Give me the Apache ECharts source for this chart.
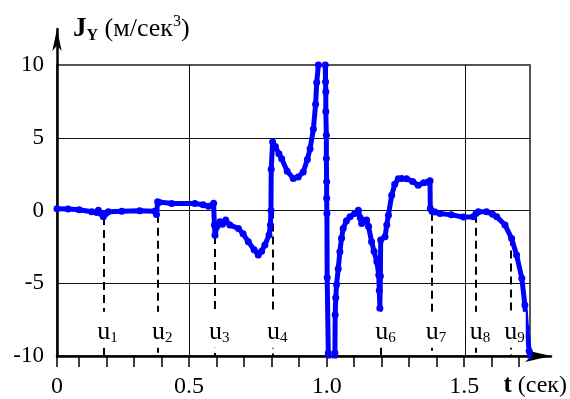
<!DOCTYPE html>
<html>
<head>
<meta charset="utf-8">
<script src="https://cdn.jsdelivr.net/npm/echarts@6/dist/echarts.min.js"></script>
<style>
  html, body { margin: 0; padding: 0; background: #fff; }
  #chart { width: 570px; height: 399px; }
</style>
</head>
<body>
<div id="chart"></div>
<script>
// Measured jerk along Y, J_Y (m/s^3), against time t (s)
const timeSec = [
  0.020, 0.060, 0.100, 0.146, 0.164, 0.170, 0.180, 0.188, 0.197, 0.206,
  0.255, 0.320, 0.375, 0.381, 0.385, 0.390, 0.436, 0.520, 0.550, 0.569,
  0.583, 0.588, 0.591, 0.593, 0.600, 0.611, 0.620, 0.632, 0.647, 0.678,
  0.695, 0.714, 0.735, 0.750, 0.762, 0.774, 0.789, 0.794, 0.796, 0.797,
  0.802, 0.812, 0.825, 0.835, 0.855, 0.877, 0.895, 0.913, 0.928, 0.938,
  0.950, 0.958, 0.962, 0.968, 0.978, 0.988, 0.993, 0.994, 0.995, 0.995,
  0.997, 0.997, 0.998, 0.998, 0.999, 1.000, 1.004, 1.010, 1.022, 1.028,
  1.029, 1.031, 1.034, 1.040, 1.046, 1.052, 1.058, 1.070, 1.083, 1.100,
  1.113, 1.120, 1.125, 1.134, 1.143, 1.150, 1.161, 1.170, 1.180, 1.187,
  1.189, 1.191, 1.193, 1.194, 1.210, 1.216, 1.222, 1.234, 1.245, 1.258,
  1.270, 1.288, 1.310, 1.330, 1.350, 1.365, 1.373, 1.374, 1.380, 1.391,
  1.409, 1.450, 1.494, 1.530, 1.540, 1.548, 1.578, 1.600, 1.615, 1.645,
  1.669, 1.687, 1.706, 1.717, 1.723, 1.733, 1.740
];
const jerkY = [
  0.12, 0.10, 0.05, -0.09, -0.14, 0.02, -0.20, -0.43, -0.20, -0.09,
  -0.05, -0.02, -0.05, -0.27, 0.60, 0.55, 0.48, 0.48, 0.40, 0.30,
  0.35, 0.50, -1.00, -1.70, -1.10, -0.78, -0.95, -0.66, -1.00, -1.23,
  -1.60, -2.15, -2.70, -3.06, -2.80, -2.37, -1.69, -1.00, 0.00, 2.83,
  4.70, 4.40, 3.90, 3.56, 2.70, 2.20, 2.30, 2.65, 3.50, 4.25,
  5.60, 7.30, 8.80, 10.0, 13.5, 13.5, 10.0, 8.85, 8.16, 6.80,
  5.17, 3.57, 1.97, 0.85, -0.20, -4.60, -9.80, -13.0, -13.0, -9.80,
  -7.17, -6.00, -5.10, -4.00, -2.83, -1.90, -1.23, -0.70, -0.43, -0.20,
  0.02, -0.50, -0.89, -0.70, -0.66, -1.10, -2.14, -2.80, -3.51, -4.43,
  -5.50, -6.71, -4.50, -2.03, -1.80, -1.00, -0.32, 1.05, 1.80, 2.19,
  2.20, 2.19, 2.00, 1.73, 1.90, 1.95, 2.05, 0.14, -0.05, -0.10,
  -0.20, -0.30, -0.45, -0.43, -0.20, -0.09, -0.09, -0.25, -0.43, -1.00,
  -1.92, -3.06, -4.66, -6.49, -8.08, -9.68, -11.0
];

// Control instants u_i: time, index and the curve value where the marker starts
const uTimes = [0.188, 0.386, 0.593, 0.803, 1.196, 1.379, 1.539, 1.664];
const uNames = ['1', '2', '3', '4', '6', '7', '8', '9'];
const uTop   = [-0.45, -0.30, -1.75, 0.00, -6.70, -0.15, -0.30, -1.85];

// Axis ticks, labels and grid lines
const xGridLines  = [0.5, 1.0, 1.5];
const yGridLines  = [-5, 0, 5];
const yTickLabels = [-10, -5, 0, 5, 10];
const xTickLabels = [0.02, 0.5, 1.0, 1.5];   // first entry sits under the vertical axis, printed as "0"
const xMinorTicks = [0.02, 0.1, 0.2, 0.3, 0.4, 0.5, 0.6, 0.7, 0.8, 0.9,
                     1.0, 1.1, 1.2, 1.3, 1.4, 1.5, 1.6, 1.7];

const SERIF = '"Liberation Serif", "Times New Roman", serif';
const X_MIN = 0.02;        // vertical axis position on the time scale
const X_FRAME = 1.7356;    // right edge of the framed plot area
const X_ARROW = 1.8154;    // end of the time axis line
const Y_ARROW = 12.47;     // end of the value axis line
const U_LABEL_Y = -8.2;

const chart = echarts.init(document.getElementById('chart'), null, { renderer: 'canvas' });

const option = {
  animation: false,
  backgroundColor: '#fff',
  grid: [
    { left: 57, top: 65, width: 473, height: 291, show: true,
      borderColor: '#555', borderWidth: 2, backgroundColor: 'transparent' },
    { left: 57, top: 29, width: 495, height: 327 }
  ],
  xAxis: [
    { gridIndex: 0, type: 'value', min: X_MIN, max: X_FRAME, show: false },
    { gridIndex: 1, type: 'value', min: X_MIN, max: X_ARROW, position: 'bottom',
      axisLine: { onZero: false, symbol: ['none', 'arrow'], symbolSize: [9, 26],
                  lineStyle: { color: '#000', width: 2.5 } },
      axisTick: { show: true, customValues: xMinorTicks, length: 11, inside: false,
                  lineStyle: { color: '#000', width: 1.5 } },
      axisLabel: { customValues: xTickLabels, margin: 19, color: '#000',
                   fontFamily: SERIF, fontSize: 24,
                   formatter: v => (v < 0.1 ? '0' : v.toFixed(1)) },
      splitLine: { show: false },
      name: '{t|t} (сек)', nameLocation: 'end', nameGap: 16,
      nameTextStyle: { align: 'right', verticalAlign: 'top', padding: [17, 0, 0, 0],
                       color: '#000', fontFamily: SERIF, fontSize: 24,
                       rich: { t: { fontFamily: SERIF, fontSize: 25, fontWeight: 'bold', color: '#000' } } }
    }
  ],
  yAxis: [
    { gridIndex: 0, type: 'value', min: -10, max: 10, show: false },
    { gridIndex: 1, type: 'value', min: -10, max: Y_ARROW, position: 'left',
      axisLine: { onZero: false, symbol: ['none', 'arrow'], symbolSize: [7, 22],
                  lineStyle: { color: '#000', width: 2.5 } },
      axisTick: { show: false },
      axisLabel: { customValues: yTickLabels, margin: 13, color: '#000',
                   fontFamily: SERIF, fontSize: 23 },
      splitLine: { show: false },
      name: '{J|J}{Y|Y}{n| (м/сек}{s|3}{n|)}', nameLocation: 'end', nameGap: 0,
      nameTextStyle: { align: 'left', verticalAlign: 'middle', padding: [0, 0, 0, 16],
        rich: {
          J: { fontFamily: SERIF, fontSize: 27, fontWeight: 'bold', color: '#000', lineHeight: 30 },
          Y: { fontFamily: SERIF, fontSize: 16, fontWeight: 'bold', color: '#000', verticalAlign: 'bottom' },
          n: { fontFamily: SERIF, fontSize: 26, color: '#000', lineHeight: 30 },
          s: { fontFamily: SERIF, fontSize: 16, color: '#000', verticalAlign: 'top' }
        } }
    }
  ],
  series: [
    { // grid lines inside the frame
      type: 'line', xAxisIndex: 0, yAxisIndex: 0, data: [], silent: true, z: 1,
      markLine: { silent: true, symbol: 'none', animation: false, z: 1, label: { show: false },
                  lineStyle: { color: '#111', width: 1, type: 'solid' },
                  data: xGridLines.map(v => ({ xAxis: v })).concat(yGridLines.map(v => ({ yAxis: v }))) }
    },
    { // dashed drop lines at the control instants
      type: 'line', xAxisIndex: 0, yAxisIndex: 0, data: [], silent: true, z: 2,
      markLine: { silent: true, symbol: 'none', animation: false, z: 2, label: { show: false },
                  lineStyle: { color: '#000', width: 2, type: [8, 5], opacity: 1 },
                  data: uTimes.map((t, i) => [{ coord: [t, uTop[i]] }, { coord: [t, -10] }]) }
    },
    { // measured jerk trace
      type: 'line', xAxisIndex: 0, yAxisIndex: 0, z: 3, clip: true, silent: true,
      data: timeSec.map((t, i) => [t, jerkY[i]]),
      symbol: 'circle', symbolSize: 7, showSymbol: true,
      lineStyle: { color: '#0000ff', width: 5 },
      itemStyle: { color: '#0000ff' }
    },
    { // u_i labels
      type: 'scatter', xAxisIndex: 0, yAxisIndex: 0, z: 6, silent: true, symbolSize: 0,
      itemStyle: { opacity: 1 },
      data: uTimes.map((t, i) => ({ value: [t, U_LABEL_Y], name: uNames[i] })),
      label: { show: true, position: 'inside', align: 'left', offset: [-7, 0],
               backgroundColor: '#fff', padding: [6, 1, 2, 1], color: '#000', opacity: 1,
               formatter: p => '{u|u}{s|' + p.name + '}',
               rich: {
                 u: { fontFamily: SERIF, fontSize: 26, color: '#000', lineHeight: 28 },
                 s: { fontFamily: SERIF, fontSize: 15, color: '#000', verticalAlign: 'bottom' }
               } }
    }
  ]
};

chart.setOption(option);
</script>
</body>
</html>
